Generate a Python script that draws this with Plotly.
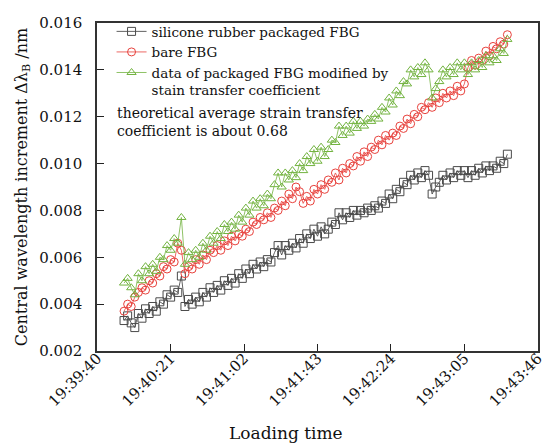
import pandas as pd
import plotly.graph_objects as go

# ---- data ----
tick_labels = ["19:39:40", "19:40:21", "19:41:02", "19:41:43", "19:42:24", "19:43:05", "19:43:46"]
start_time = "2024-01-01 19:39:55"
sample_step = "2s"

silicone = [
    0.0033, 0.0035, 0.0032, 0.0030, 0.0036, 0.0034, 0.0038, 0.0036, 0.0039, 0.0037,
    0.0041, 0.0040, 0.0044, 0.0043, 0.0046, 0.0045, 0.0052, 0.0039, 0.0042, 0.0040,
    0.0043, 0.0041, 0.0045, 0.0043, 0.0047, 0.0045, 0.0048, 0.0046, 0.0050, 0.0048,
    0.0051, 0.0049, 0.0053, 0.0051, 0.0055, 0.0053, 0.0057, 0.0055, 0.0058, 0.0056,
    0.0059, 0.0058, 0.0062, 0.0065, 0.0061, 0.0065, 0.0063, 0.0066, 0.0064, 0.0068,
    0.0066, 0.0070, 0.0068, 0.0072, 0.0069, 0.0073, 0.0070, 0.0072, 0.0075, 0.0074,
    0.0079, 0.0076, 0.0079, 0.0077, 0.0080, 0.0078, 0.0080, 0.0079, 0.0081, 0.0080,
    0.0082, 0.0081, 0.0084, 0.0083, 0.0087, 0.0085, 0.0089, 0.0088, 0.0092, 0.0091,
    0.0095, 0.0093, 0.0096, 0.0094, 0.0097, 0.0095, 0.0087, 0.0090, 0.0092, 0.0095,
    0.0093, 0.0096, 0.0094, 0.0097, 0.0095, 0.0097, 0.0094, 0.0097, 0.0095, 0.0098,
    0.0096, 0.0099, 0.0097, 0.0099, 0.0098, 0.0101, 0.0100, 0.0104,
]

bare = [
    0.0037, 0.0040, 0.0039, 0.0043, 0.0045, 0.0047, 0.0046, 0.0050, 0.0049, 0.0053,
    0.0052, 0.0056, 0.0055, 0.0059, 0.0058, 0.0066, 0.0063, 0.0053, 0.0056, 0.0055,
    0.0059, 0.0057, 0.0061, 0.0059, 0.0063, 0.0062, 0.0065, 0.0063, 0.0067, 0.0065,
    0.0069, 0.0067, 0.0070, 0.0069, 0.0072, 0.0071, 0.0075, 0.0074, 0.0077, 0.0076,
    0.0079, 0.0077, 0.0081, 0.0080, 0.0084, 0.0082, 0.0087, 0.0085, 0.0090, 0.0088,
    0.0083, 0.0086, 0.0084, 0.0089, 0.0087, 0.0091, 0.0089, 0.0093, 0.0092, 0.0096,
    0.0093, 0.0098, 0.0096, 0.0100, 0.0099, 0.0103, 0.0101, 0.0105, 0.0103, 0.0107,
    0.0106, 0.0110, 0.0108, 0.0112, 0.0110, 0.0113, 0.0112, 0.0116, 0.0115, 0.0119,
    0.0117, 0.0121, 0.0120, 0.0124, 0.0123, 0.0126, 0.0124, 0.0128, 0.0126, 0.0130,
    0.0128, 0.0131, 0.0129, 0.0133, 0.0131, 0.0134, 0.0141, 0.0144, 0.0142, 0.0145,
    0.0144, 0.0148, 0.0146, 0.0150, 0.0149, 0.0152, 0.0151, 0.0155,
]

modified = [
    0.0049, 0.0051, 0.0047, 0.0044, 0.0053, 0.0050, 0.0056, 0.0053, 0.0057, 0.0054,
    0.0060, 0.0059, 0.0065, 0.0063, 0.0068, 0.0066, 0.0077, 0.0057, 0.0062, 0.0059,
    0.0063, 0.0060, 0.0066, 0.0063, 0.0069, 0.0066, 0.0071, 0.0068, 0.0074, 0.0071,
    0.0075, 0.0072, 0.0078, 0.0075, 0.0081, 0.0078, 0.0084, 0.0081, 0.0085, 0.0082,
    0.0087, 0.0085, 0.0091, 0.0096, 0.0090, 0.0096, 0.0093, 0.0097, 0.0094, 0.0100,
    0.0097, 0.0103, 0.0100, 0.0106, 0.0101, 0.0107, 0.0103, 0.0106, 0.0110, 0.0109,
    0.0116, 0.0112, 0.0116, 0.0113, 0.0118, 0.0115, 0.0118, 0.0116, 0.0119, 0.0118,
    0.0121, 0.0119, 0.0124, 0.0122, 0.0128, 0.0125, 0.0131, 0.0129, 0.0135, 0.0134,
    0.0140, 0.0137, 0.0141, 0.0138, 0.0143, 0.0140, 0.0128, 0.0132, 0.0135, 0.0140,
    0.0137, 0.0141, 0.0138, 0.0143, 0.0140, 0.0143, 0.0138, 0.0143, 0.0140, 0.0144,
    0.0141, 0.0146, 0.0143, 0.0146, 0.0144, 0.0149, 0.0147, 0.0153,
]

names = [
    "silicone rubber packaged FBG",
    "bare FBG",
    "data of packaged FBG modified by<br>stain transfer coefficient",
]
note_text = "theoretical average strain transfer<br>coefficient is about 0.68"

# ---- build ----
def times_for(values):
    return pd.date_range(start=start_time, periods=len(values), freq=sample_step)

FONT = "DejaVu Serif"
styles = [
    dict(color="#3a3a3a", mcolor="#4a4a4a", symbol="square-open"),
    dict(color="#e8413c", mcolor="#e8413c", symbol="circle-open"),
    dict(color="#72b33f", mcolor="#72b33f", symbol="triangle-up-open"),
]

fig = go.Figure()
for vals, name, st in zip([silicone, bare, modified], names, styles):
    fig.add_trace(go.Scatter(
        x=times_for(vals), y=vals, name=name, mode="lines+markers",
        line=dict(color=st["color"], width=0.8),
        marker=dict(symbol=st["symbol"], size=8, color=st["mcolor"],
                    line=dict(color=st["mcolor"], width=1)),
    ))

tick_vals = ["2024-01-01 " + s for s in tick_labels]
x_range = ["2024-01-01 19:39:39.9", "2024-01-01 19:43:46.1"]

# page body adds an 8px offset; figure is sized/margined so the plot lands in place
fig.update_layout(
    width=544, height=437,
    margin=dict(l=89, r=6, t=12, b=94),
    paper_bgcolor="white", plot_bgcolor="white",
    font=dict(family=FONT, color="#111111", size=14),
    showlegend=True,
    legend=dict(x=0.033, y=1.021, xanchor="left", yanchor="top",
                bgcolor="rgba(0,0,0,0)", font=dict(family=FONT, size=13.5),
                valign="top", tracegroupgap=0, itemwidth=30),
    annotations=[
        dict(text=note_text, xref="paper", yref="paper", x=0.04, y=0.755,
             xanchor="left", yanchor="top", align="left", showarrow=False,
             font=dict(family=FONT, size=14)),
        dict(text="Loading time", xref="paper", yref="paper", x=0.4276, y=0,
             yshift=-82, xanchor="center", yanchor="middle", showarrow=False,
             font=dict(family=FONT, size=17)),
    ],
)

fig.update_xaxes(
    type="date", range=x_range,
    tickmode="array", tickvals=tick_vals, ticktext=tick_labels,
    tickangle=-45, tickfont=dict(family=FONT, size=15), ticklabelstandoff=-9,
    ticks="inside", ticklen=7, tickcolor="#222", tickwidth=1,
    showline=True, linecolor="#333", linewidth=1.5, mirror=True,
    showgrid=False, zeroline=False,
)
fig.update_yaxes(
    range=[0.002, 0.016], dtick=0.002, tick0=0.002, tickformat=".3f",
    tickfont=dict(family=FONT, size=15), ticklabelstandoff=10,
    ticks="inside", ticklen=7, tickcolor="#222", tickwidth=1,
    showline=True, linecolor="#333", linewidth=1.5, mirror=True,
    showgrid=False, zeroline=False,
    title=dict(text="Central wavelength increment Δλ<sub>B</sub> /nm",
               font=dict(family=FONT, size=16), standoff=8),
)

fig.write_html("out.html")
